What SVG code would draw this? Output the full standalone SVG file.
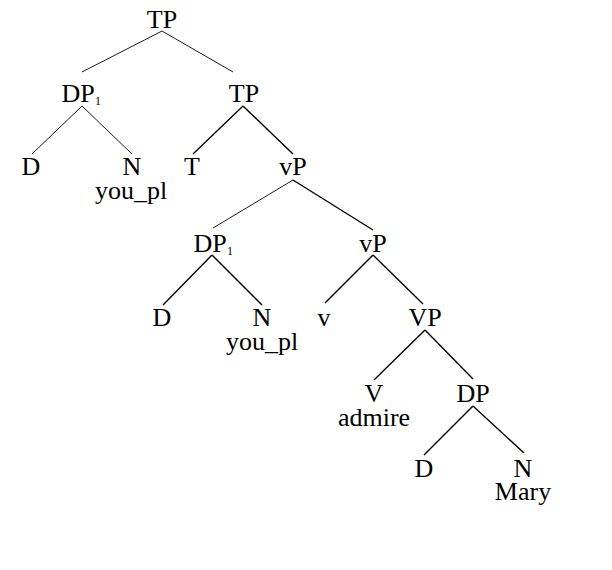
<svg xmlns="http://www.w3.org/2000/svg" width="612" height="570" viewBox="0 0 612 570">
<style>
text{font-family:"Liberation Serif","Times New Roman",serif;font-size:26px;fill:#000;text-anchor:middle}
.sub{font-size:12px;text-anchor:start}
line{stroke:#000;stroke-width:1.4}
.thin{stroke-width:0.9}
</style>
<rect width="612" height="570" fill="#fff"/>
<g id="connectors">
<line class="thin" x1="162" y1="31" x2="82" y2="72"/>
<line class="thin" x1="162" y1="31" x2="233" y2="72"/>
<line class="thin" x1="82" y1="106" x2="32" y2="154"/>
<line class="thin" x1="82" y1="106" x2="132" y2="154"/>
<line x1="243" y1="106" x2="193" y2="154"/>
<line x1="243" y1="106" x2="293" y2="154"/>
<line class="thin" x1="293" y1="180" x2="213" y2="228"/>
<line x1="293" y1="180" x2="373" y2="230"/>
<line x1="212" y1="255" x2="163" y2="305"/>
<line x1="212" y1="255" x2="262" y2="305"/>
<line x1="373" y1="255" x2="325" y2="303"/>
<line x1="373" y1="255" x2="423" y2="304"/>
<line x1="425" y1="330" x2="374" y2="380"/>
<line x1="425" y1="330" x2="473" y2="379"/>
<line x1="473" y1="406" x2="424" y2="455"/>
<line x1="473" y1="406" x2="524" y2="453"/>
</g>
<g id="TP1"><text x="162" y="28">TP</text></g>
<g id="DP1a"><text x="78" y="102">DP</text><text class="sub" x="95" y="105">1</text></g>
<g id="D1"><text x="31" y="175">D</text></g>
<g id="N1"><text x="132" y="175">N<tspan x="131" dy="24">you_pl</tspan></text></g>
<g id="TP2"><text x="244" y="102">TP</text></g>
<g id="T"><text x="192" y="175">T</text></g>
<g id="vP1"><text x="293" y="175">vP</text></g>
<g id="DP1b"><text x="210" y="252">DP</text><text class="sub" x="227" y="255">1</text></g>
<g id="D2"><text x="162" y="326">D</text></g>
<g id="N2"><text x="262" y="326">N<tspan x="262" dy="24">you_pl</tspan></text></g>
<g id="vP2"><text x="373" y="252">vP</text></g>
<g id="v"><text x="324" y="326">v</text></g>
<g id="VP"><text x="425" y="326">VP</text></g>
<g id="V"><text x="374" y="402">V<tspan x="374" dy="24">admire</tspan></text></g>
<g id="DP"><text x="473" y="402">DP</text></g>
<g id="D3"><text x="424" y="477">D</text></g>
<g id="N3"><text x="523" y="477">N<tspan x="523" dy="23">Mary</tspan></text></g>
</svg>
